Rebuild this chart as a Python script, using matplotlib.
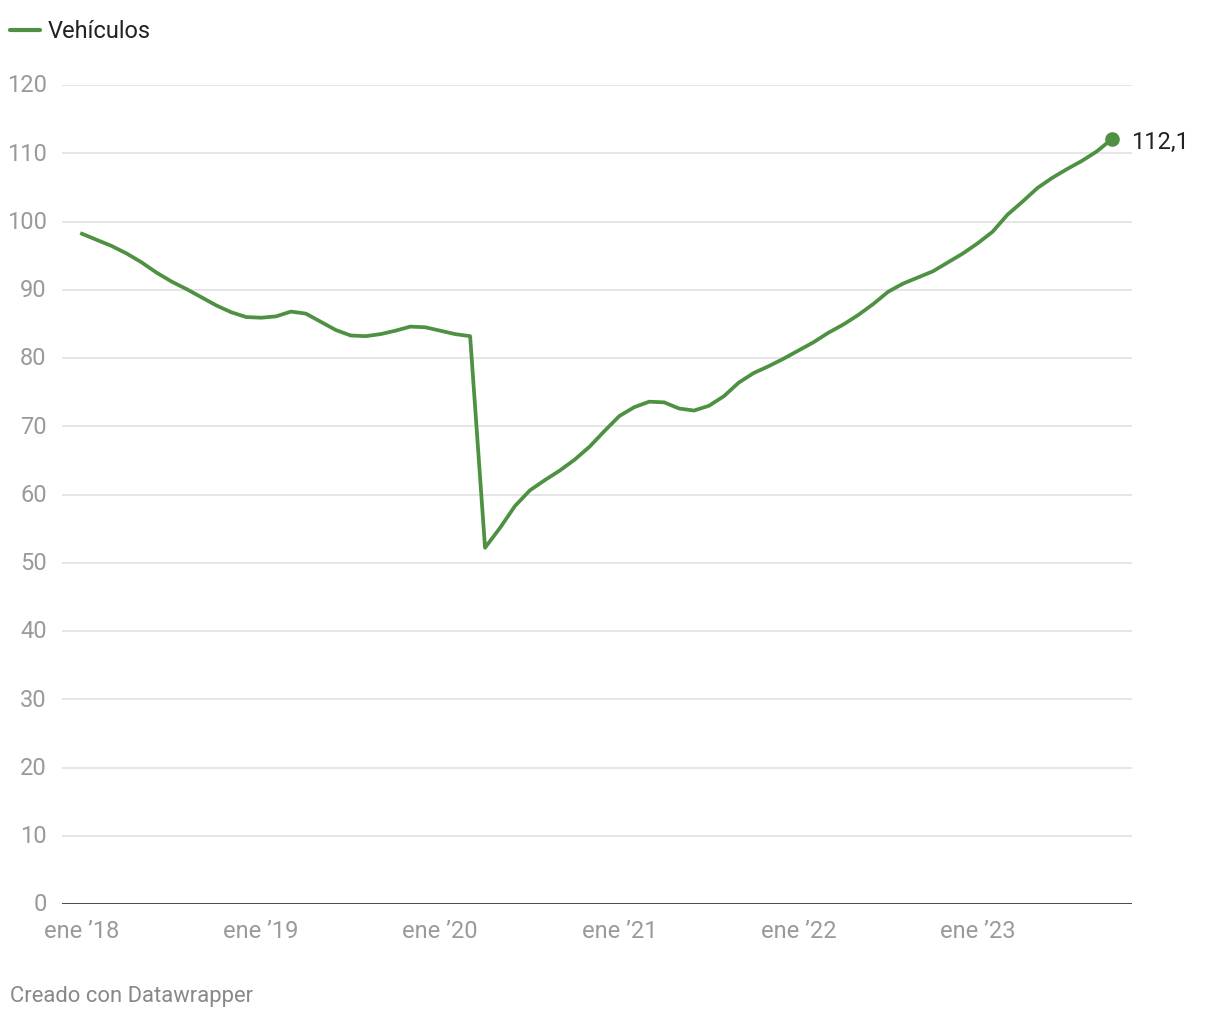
import matplotlib
matplotlib.use("Agg")
import matplotlib.pyplot as plt

plt.rcParams['font.family'] = ['Roboto', 'DejaVu Sans']

# indice mensual, ene 2018 - oct 2023
vehiculos = [
    98.2, 97.3, 96.4, 95.3, 94.0, 92.5, 91.2, 90.1, 88.9, 87.7, 86.7, 86.0,
    85.9, 86.1, 86.8, 86.5, 85.3, 84.1, 83.3, 83.2, 83.5, 84.0, 84.6, 84.5,
    84.0, 83.5, 83.2, 52.2, 55.1, 58.3, 60.6, 62.1, 63.5, 65.1, 67.0, 69.3,
    71.5, 72.8, 73.6, 73.5, 72.6, 72.3, 73.0, 74.4, 76.4, 77.8, 78.8, 79.9,
    81.1, 82.3, 83.7, 84.9, 86.3, 87.9, 89.7, 90.9, 91.8, 92.7, 94.0, 95.3,
    96.8, 98.5, 101.0, 102.9, 104.9, 106.4, 107.7, 108.9, 110.3, 112.1,
]
meses = list(range(len(vehiculos)))
ticks_x = [0, 12, 24, 36, 48, 60]
etiquetas_x = ["ene ’18", "ene ’19", "ene ’20", "ene ’21", "ene ’22", "ene ’23"]
ticks_y = [0, 10, 20, 30, 40, 50, 60, 70, 80, 90, 100, 110, 120]

verde = '#4e9142'
gris = '#9a9a9a'

fig = plt.figure(figsize=(12.2, 10.2), dpi=100)
ax = fig.add_axes([62 / 1220, 1 - 905 / 1020, 1070 / 1220, 819 / 1020])

for v in ticks_y[1:]:
    ax.axhline(v, color='#e4e4e4', lw=1.3, zorder=1)
ax.axhline(0, color='#111111', lw=1.8, zorder=2)

ax.plot(meses, vehiculos, color=verde, lw=2.7, zorder=3, solid_joinstyle='round')
ax.plot(meses[-1], vehiculos[-1], 'o', color=verde, ms=9.5, zorder=4)
ax.annotate(f"{vehiculos[-1]:.1f}".replace('.', ','), (meses[-1], vehiculos[-1]),
            xytext=(14, -2), textcoords='offset points', va='center', ha='left',
            fontsize=17, color='#222222')

ax.set_xlim(-1.34, len(vehiculos) - 1 + 1.34)
ax.set_ylim(0, 120)

for s in ax.spines.values():
    s.set_visible(False)
ax.tick_params(length=0)
ax.set_xticks(ticks_x)
ax.set_xticklabels(etiquetas_x, fontsize=17, color=gris)
ax.tick_params(axis='x', pad=11)
ax.set_yticks(ticks_y)
ax.set_yticklabels([str(t) for t in ticks_y], fontsize=17, color=gris)
ax.tick_params(axis='y', pad=11)
for lab in ax.get_yticklabels():
    lab.set_verticalalignment('center')

# leyenda
fig.add_artist(plt.Line2D([10 / 1220, 40 / 1220], [1 - 31 / 1020] * 2,
                          color=verde, lw=3, solid_capstyle='round'))
fig.text(48 / 1220, 1 - 31 / 1020, "Vehículos", fontsize=17, color='#222222',
         va='center', ha='left')

fig.text(10 / 1220, 1 - 997 / 1020, "Creado con Datawrapper", fontsize=15.8,
         color='#888888', va='center', ha='left')

fig.savefig('out.png', dpi=100)
